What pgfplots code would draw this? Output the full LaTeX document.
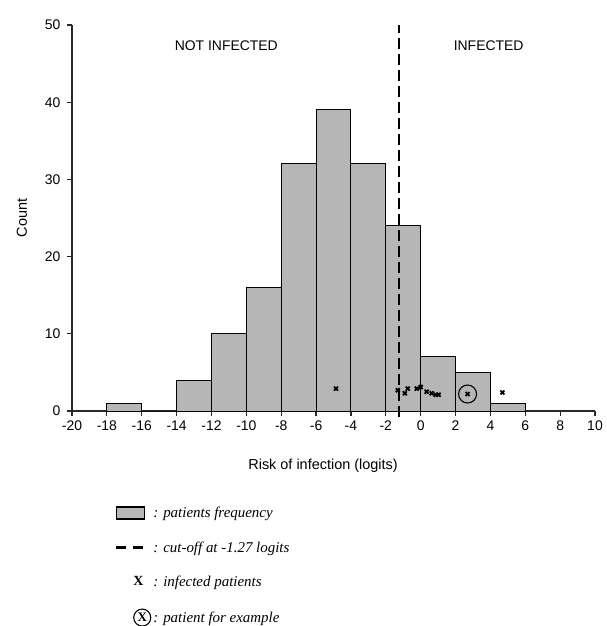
\documentclass[border=0pt]{standalone}
\usepackage{pgfplots}
\pgfplotsset{compat=1.18}
\usepackage{fontspec}
\setmainfont{Liberation Sans}
\newfontfamily\legfont{Liberation Serif}
\definecolor{barfill}{RGB}{182,182,182}
\definecolor{axisgray}{RGB}{40,40,40}

\begin{document}
\begin{tikzpicture}
\begin{axis}[
  at={(72bp,-411bp)}, anchor=south west,
  scale only axis, width=523bp, height=386bp,
  xmin=-20, xmax=10, ymin=0, ymax=50,
  axis x line*=bottom, axis y line*=left,
  axis line style={line width=1.2bp, axisgray},
  xtick={-20,-18,...,10},
  xticklabels={-20,-18,-16,-14,-12,-10,-8,-6,-4,-2,0,2,4,6,8,10},
  ytick={0,10,20,30,40,50},
  yticklabels={0,10,20,30,40,50},
  tick align=outside, major tick length=5bp,
  tick style={line width=1.2bp, axisgray},
  tick label style={font=\fontsize{14}{14}\selectfont},
  yticklabel style={xshift=-3bp},
  xticklabel style={yshift=-1bp},
  xlabel={Risk of infection (logits)},
  ylabel={Count},
  label style={font=\fontsize{14.5}{14.5}\selectfont},
  xlabel style={at={(axis description cs:0.48,-0.142)}, anchor=center},
  ylabel style={at={(axis description cs:-0.096,0.5)}, anchor=center},
  clip=false,
  legend style={at={(axis description cs:0.082,-0.243)}, anchor=north west,
    draw=none, fill=none, inner sep=0pt, row sep=18.5bp,
    font=\legfont\itshape\fontsize{15}{15}\selectfont,
    /tikz/every odd column/.style={column sep=0bp}},
  legend cell align=left,
]
% histogram
\addplot[ybar interval, fill=barfill, draw=black, line width=1bp, forget plot]
  coordinates {(-18,1)(-16,0)(-14,4)(-12,10)(-10,16)(-8,32)(-6,39)(-4,32)(-2,24)(0,7)(2,5)(4,1)(6,0)};
% cut-off
\addplot[black, line width=2bp, dash pattern=on 11bp off 5bp, forget plot]
  coordinates {(-1.27,-0.8)(-1.27,50)};
% infected patients
\addplot[only marks, mark=x, mark size=2.8pt, line width=1.8bp, black, forget plot]
  coordinates {(-4.86,2.9)(-1.31,2.7)(-0.91,2.3)(-0.74,2.9)(-0.23,2.9)(0.0,3.1)(0.34,2.5)(0.63,2.3)(0.86,2.1)(1.03,2.1)(4.69,2.4)};
% patient for example
\addplot[only marks, mark=x, mark size=2.8pt, line width=1.8bp, black, forget plot]
  coordinates {(2.69,2.2)};
\addplot[only marks, mark=o, mark size=9bp, line width=1.1bp, black, forget plot]
  coordinates {(2.69,2.2)};
\node[font=\fontsize{14}{14}\selectfont] at (axis cs:-11.15,47.3) {NOT INFECTED};
\node[font=\fontsize{14}{14}\selectfont] at (axis cs:3.9,47.3) {INFECTED};
% legend
\addlegendimage{legend image code/.code={\draw[fill=barfill, draw=black, line width=1.2bp] (0bp,-6bp) rectangle (28bp,6bp);}}
\addlegendentry{: patients frequency}
\addlegendimage{legend image code/.code={\path (0bp,-6bp) (30bp,6bp);\draw[line width=2.2bp, dash pattern=on 10bp off 7bp] (0bp,0bp) -- (28bp,0bp);}}
\addlegendentry{: cut-off at -1.27 logits}
\addlegendimage{legend image code/.code={\path (0bp,-6bp) (30bp,6bp);\node[font=\legfont\bfseries\fontsize{14}{14}\selectfont, inner sep=0pt] at (17bp,0bp) {X};}}
\addlegendentry{: infected patients}
\addlegendimage{legend image code/.code={\path (0bp,-6bp) (30bp,6bp);\node[circle, draw, line width=1.1bp, inner sep=1.2bp, font=\legfont\bfseries\fontsize{13}{13}\selectfont] at (17bp,0bp) {X};}}
\addlegendentry{: patient for example}
\end{axis}
\pgfresetboundingbox
\path[use as bounding box] (0,0) rectangle (607bp,-626bp);
\end{tikzpicture}
\end{document}
